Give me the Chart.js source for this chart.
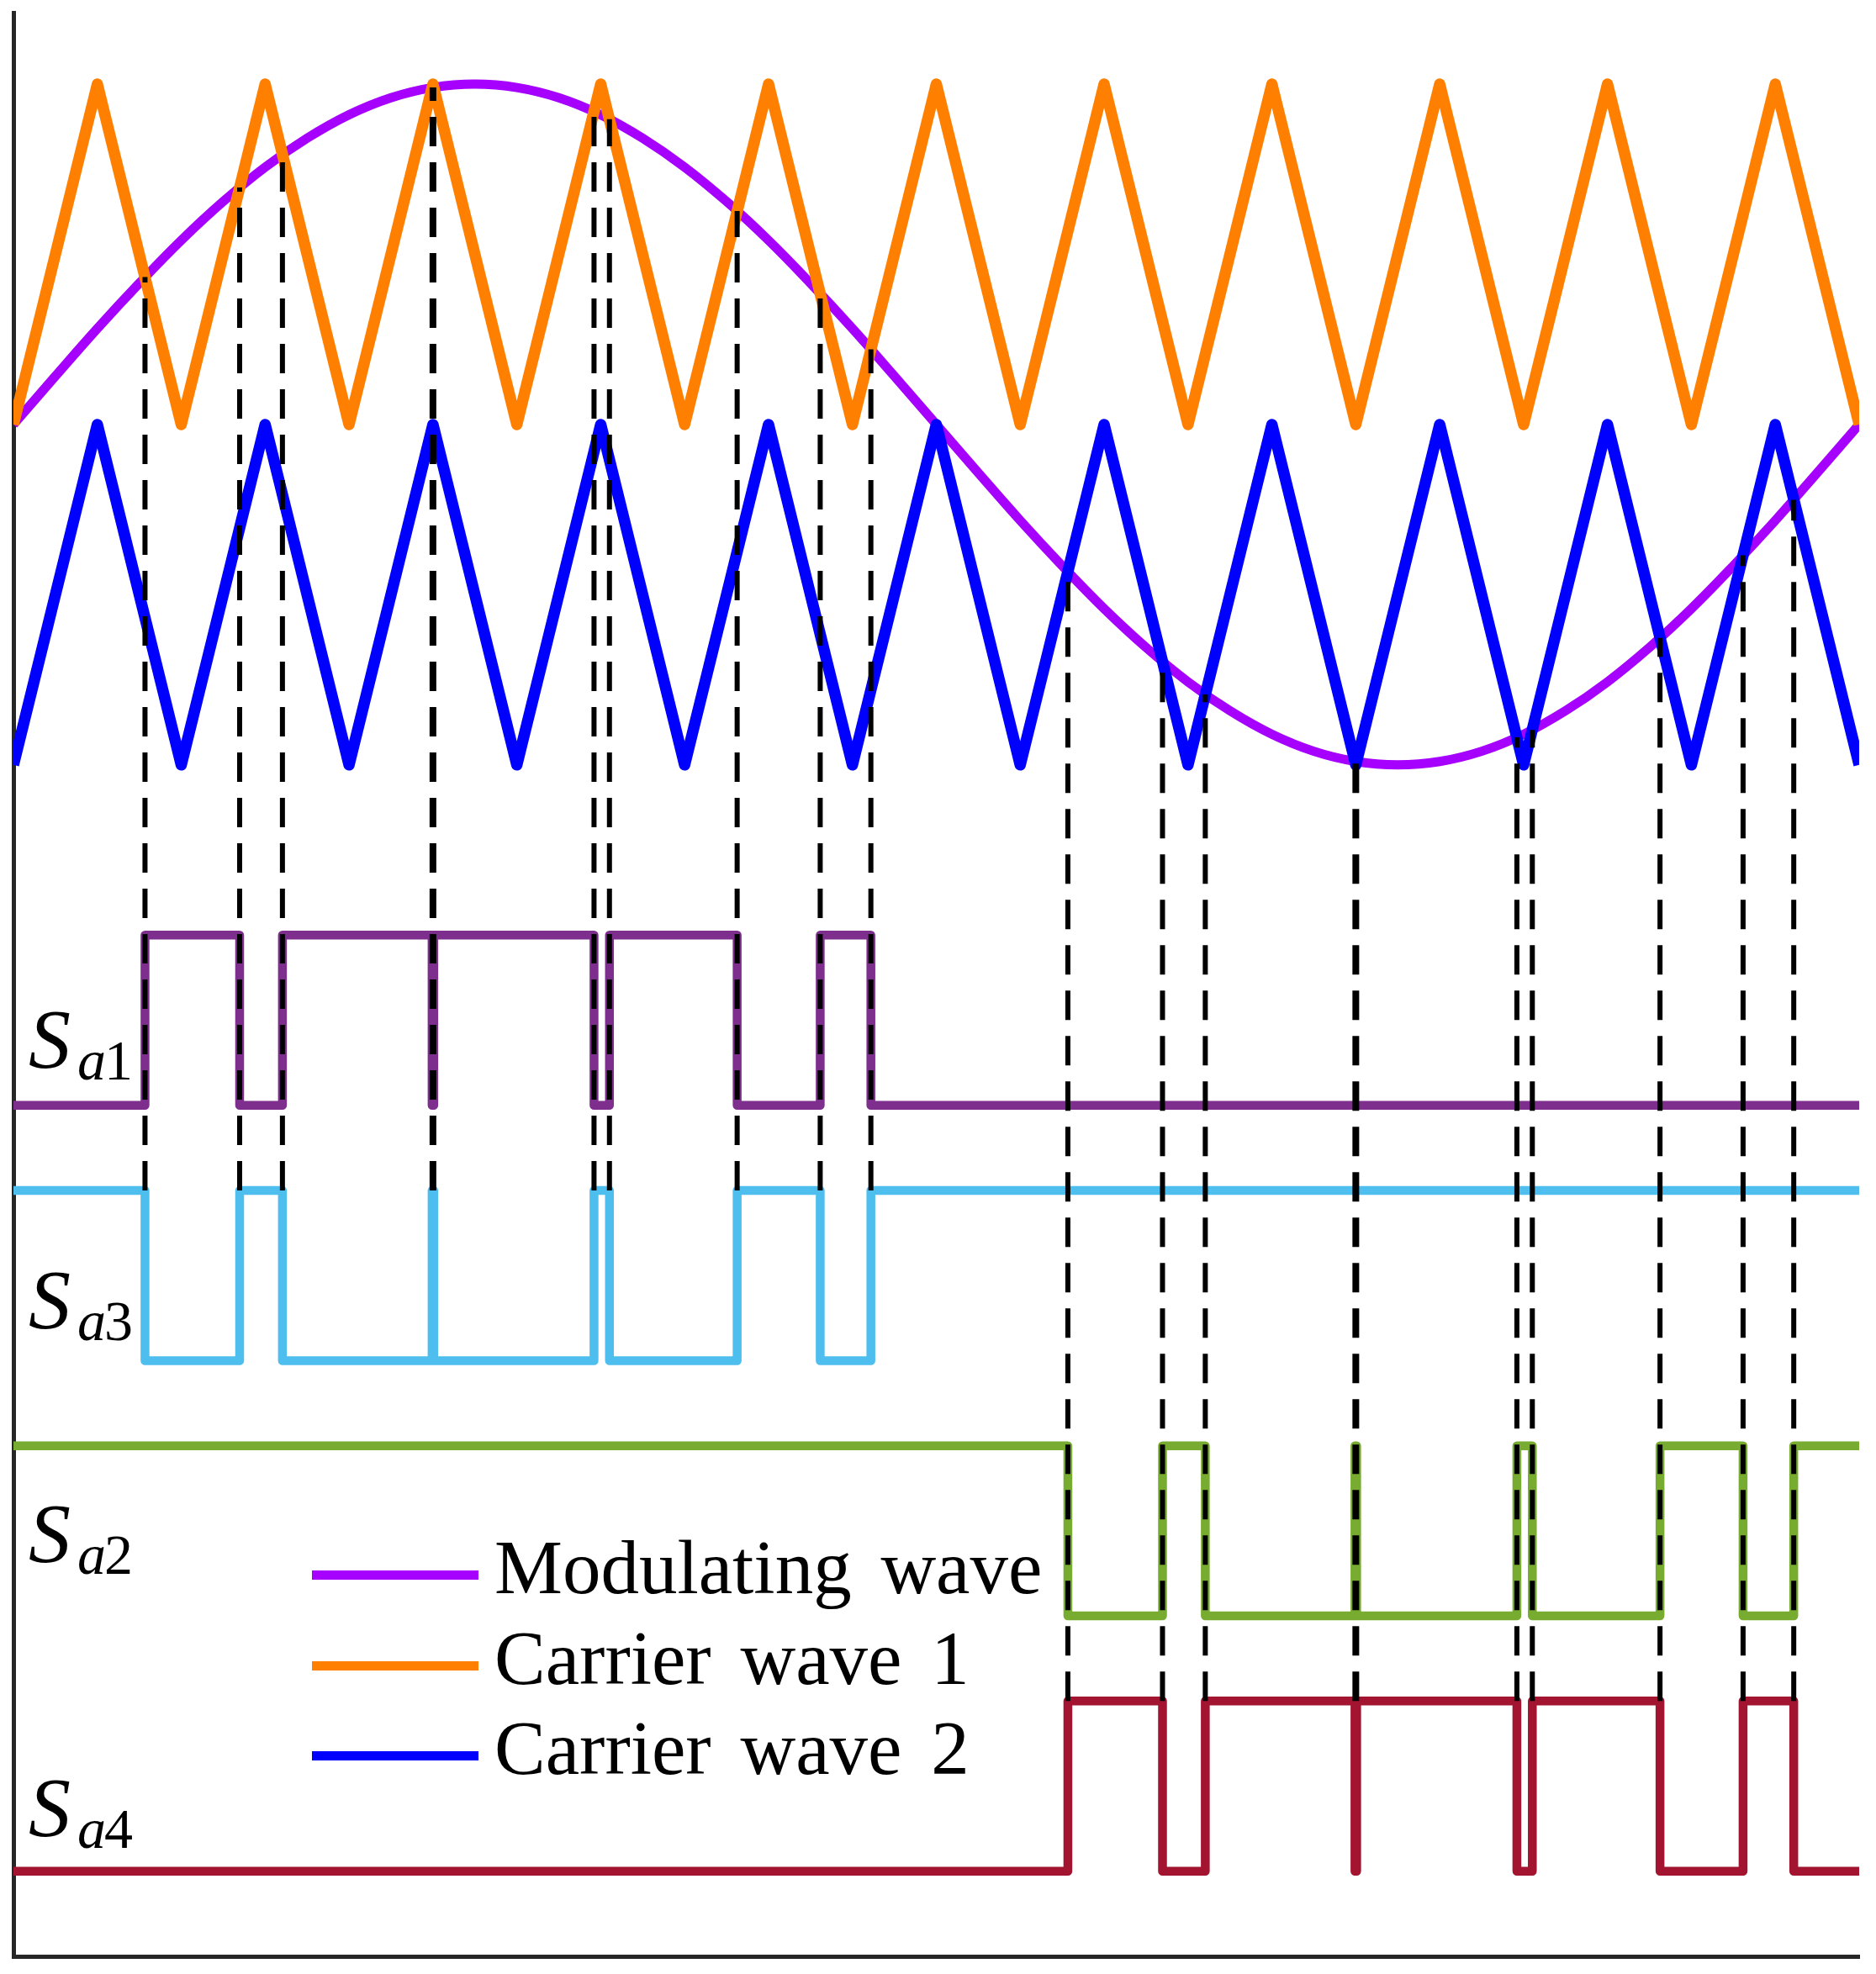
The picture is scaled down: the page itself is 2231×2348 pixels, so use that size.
<!DOCTYPE html>
<html>
<head>
<meta charset="utf-8">
<title>Carrier-based PWM switching signals</title>
<script src="https://cdn.jsdelivr.net/npm/chart.js@4.4.1/dist/chart.umd.min.js"></script>
<style>
  html, body { margin: 0; padding: 0; background: #fff; }
  #wrap { position: relative; width: 2231px; height: 2348px; overflow: hidden; }
  #chart { position: absolute; left: 0; top: 0; }
  .txt {
    position: absolute;
    font-family: "Liberation Serif", "DejaVu Serif", serif;
    line-height: 1;
    white-space: nowrap;
    color: #000;
  }
  .swatch { position: absolute; height: 11px; }
</style>
</head>
<body>
<div id="wrap">
  <canvas id="chart" width="2231" height="2348"></canvas>
</div>
<script>
// time axis is in carrier periods (11 periods for one modulating cycle)
const xEnd = 11;

// modulating wave samples
const modX = [0, 0.25, 0.5, 0.75, 1, 1.25, 1.5, 1.75, 2, 2.25, 2.5, 2.75, 3, 3.25, 3.5, 3.75,
  4, 4.25, 4.5, 4.75, 5, 5.25, 5.5, 5.75, 6, 6.25, 6.5, 6.75, 7, 7.25, 7.5, 7.75,
  8, 8.25, 8.5, 8.75, 9, 9.25, 9.5, 9.75, 10, 10.25, 10.5, 10.75, 11];
const modY = [0, 0.142, 0.282, 0.415, 0.541, 0.655, 0.756, 0.841, 0.910, 0.960, 0.990, 1.000,
  0.990, 0.960, 0.910, 0.841, 0.756, 0.655, 0.541, 0.415, 0.282, 0.142, 0,
  -0.142, -0.282, -0.415, -0.541, -0.655, -0.756, -0.841, -0.910, -0.960, -0.990, -1.000,
  -0.990, -0.960, -0.910, -0.841, -0.756, -0.655, -0.541, -0.415, -0.282, -0.142, 0];

// carrier vertices
const carrierX = [0, 0.5, 1, 1.5, 2, 2.5, 3, 3.5, 4, 4.5, 5, 5.5, 6, 6.5, 7, 7.5, 8, 8.5, 9, 9.5, 10, 10.5, 11];
const carrier1Y = [0, 1, 0, 1, 0, 1, 0, 1, 0, 1, 0, 1, 0, 1, 0, 1, 0, 1, 0, 1, 0, 1, 0];
const carrier2Y = [-1, 0, -1, 0, -1, 0, -1, 0, -1, 0, -1, 0, -1, 0, -1, 0, -1, 0, -1, 0, -1, 0, -1];

// switching instants (positive half: carrier 1, negative half: carrier 2)
const edgesA = [0.784, 1.348, 1.603, 2.495, 2.505, 3.460, 3.552, 4.313, 4.808, 5.110];
const crossA = [0.433, 0.696, 0.793, 0.990, 0.990, 0.919, 0.897, 0.627, 0.384, 0.221];
const edgesB = [6.284, 6.848, 7.103, 7.995, 8.005, 8.960, 9.052, 9.813, 10.308, 10.610];
const crossB = [-0.433, -0.696, -0.793, -0.990, -0.990, -0.919, -0.897, -0.627, -0.384, -0.221];

// gate states: value at t = 0 and after each switching instant
const sa1States = [0, 1, 0, 1, 0, 1, 0, 1, 0, 1, 0];
const sa3States = [1, 0, 1, 0, 1, 0, 1, 0, 1, 0, 1];
const sa2States = [1, 0, 1, 0, 1, 0, 1, 0, 1, 0, 1];
const sa4States = [0, 1, 0, 1, 0, 1, 0, 1, 0, 1, 0];

// [low, high] offsets of each gate trace
const sa1Levels = [-2, -1.5];
const sa3Levels = [-2.75, -2.25];
const sa2Levels = [-3.5, -3];
const sa4Levels = [-4.25, -3.75];

const legendNames = ['Modulating wave', 'Carrier wave 1', 'Carrier wave 2'];
const gateNames = ['1', '3', '2', '4'];

const colors = {
    mod: '#a600ff',
    c1: '#ff8000',
    c2: '#0000ff',
    sa1: '#7e2f8e',
    sa3: '#4dbeee',
    sa2: '#77ac30',
    sa4: '#a2142f',
    axis: '#262626'
};

function toPoints(xs, ys) {
    return xs.map((x, i) => ({ x: x, y: ys[i] }));
}

function stepPoints(edges, states, levels) {
    const pts = [{ x: 0, y: levels[states[0]] }];
    edges.forEach((e, i) => pts.push({ x: e, y: levels[states[i + 1]] }));
    pts.push({ x: xEnd, y: levels[states[states.length - 1]] });
    return pts;
}

// vertical dashed markers, drawn from the gate trace up to the crossing
function markerPoints(edges, cross, bottom) {
    const pts = [];
    edges.forEach((e, i) => {
        pts.push({ x: e, y: bottom }, { x: e, y: cross[i] }, { x: e, y: null });
    });
    return pts;
}

function lineSet(data, color, width, extra) {
    return Object.assign({
        data: data,
        borderColor: color,
        borderWidth: width,
        pointRadius: 0,
        fill: false,
        borderCapStyle: 'butt',
        borderJoinStyle: 'round'
    }, extra || {});
}

const datasets = [
    lineSet(markerPoints(edgesA, crossA, sa3Levels[1]).concat(markerPoints(edgesB, crossB, sa4Levels[1])),
        '#000', 6, { borderDash: [35, 19], spanGaps: false }),
    lineSet(stepPoints(edgesA, sa1States, sa1Levels), colors.sa1, 10.5, { stepped: true }),
    lineSet(stepPoints(edgesA, sa3States, sa3Levels), colors.sa3, 10.5, { stepped: true }),
    lineSet(stepPoints(edgesB, sa2States, sa2Levels), colors.sa2, 10.5, { stepped: true }),
    lineSet(stepPoints(edgesB, sa4States, sa4Levels), colors.sa4, 10.5, { stepped: true }),
    lineSet(toPoints(carrierX, carrier1Y), colors.c1, 13.5),
    lineSet(toPoints(carrierX, carrier2Y), colors.c2, 13.5),
    lineSet(toPoints(modX, modY), colors.mod, 11, { tension: 0.4 })
];

const hiddenAxis = (min, max) => ({
    type: 'linear',
    min: min,
    max: max,
    ticks: { display: false },
    grid: { display: false, drawTicks: false },
    border: { display: true, color: colors.axis, width: 5 }
});

new Chart(document.getElementById('chart'), {
    type: 'line',
    data: { datasets: datasets },
    options: {
        responsive: false,
        devicePixelRatio: 1,
        animation: false,
        layout: { padding: { left: 16, top: 15, right: 20, bottom: 21 } },
        scales: {
            x: hiddenAxis(0, xEnd),
            y: hiddenAxis(-4.5, 1.21)
        },
        plugins: {
            legend: { display: false },
            tooltip: { enabled: false }
        }
    }
});

// text overlays (legend and gate labels)
const wrap = document.getElementById('wrap');

function addText(text, left, baseline, size, italic, extraStyle) {
    const el = document.createElement('span');
    el.className = 'txt';
    el.textContent = text;
    el.style.fontSize = size + 'px';
    el.style.left = left + 'px';
    el.style.top = (baseline - 0.8373 * size) + 'px';
    if (italic) el.style.fontStyle = 'italic';
    if (extraStyle) Object.assign(el.style, extraStyle);
    wrap.appendChild(el);
}

const legendColors = [colors.mod, colors.c1, colors.c2];
const legendRows = [1873, 1981, 2088];
legendNames.forEach((name, i) => {
    const sw = document.createElement('div');
    sw.className = 'swatch';
    sw.style.left = '371px';
    sw.style.width = '198px';
    sw.style.top = (legendRows[i] - 5.5) + 'px';
    sw.style.background = legendColors[i];
    wrap.appendChild(sw);
    addText(name, 588, legendRows[i] + 22, 91, false, { wordSpacing: '12px' });
});

// S_a labels, baselines of the big S
const gateBaselines = [1270, 1580, 1858, 2184];
gateNames.forEach((n, i) => {
    const b = gateBaselines[i];
    addText('S', 34, b, 100, true);
    addText('a', 92, b + 14, 68, true);
    addText(n, 124, b + 14, 68, false);
});
</script>
</body>
</html>
